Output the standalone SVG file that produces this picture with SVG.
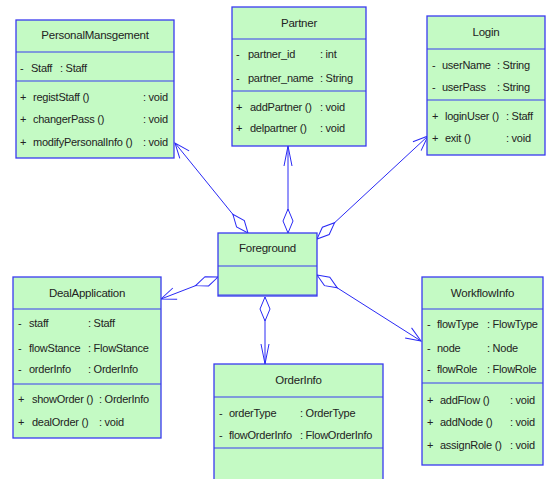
<svg xmlns="http://www.w3.org/2000/svg" width="547" height="479" viewBox="0 0 547 479">
<style>
.box{fill:#c4fac4;stroke:#3a3af0;stroke-width:1.3}
.div{stroke:#3a3af0;stroke-width:1.2}
text{font-family:"Liberation Sans",Arial,sans-serif;font-size:11px;fill:#222;letter-spacing:-0.25px}
.t{text-anchor:middle;font-size:11.5px}
.con{fill:none;stroke:#2a2af5;stroke-width:1}
</style>
<defs>
<marker id="dia" markerUnits="userSpaceOnUse" markerWidth="30" markerHeight="12" orient="auto" refX="0" refY="0" overflow="visible">
<path d="M0,0 L12,-5 L24,0 L12,5 Z" fill="#fff" stroke="#2a2af5" stroke-width="1"/>
</marker>
<marker id="arw" markerUnits="userSpaceOnUse" markerWidth="20" markerHeight="14" orient="auto" refX="0" refY="0" overflow="visible">
<path d="M-15,-6 L0,0 L-15,6" fill="none" stroke="#2a2af5" stroke-width="1"/>
</marker>
<marker id="arn" markerUnits="userSpaceOnUse" markerWidth="22" markerHeight="10" orient="auto" refX="0" refY="0" overflow="visible">
<path d="M-20,-4 L0,0 L-20,4" fill="none" stroke="#2a2af5" stroke-width="1"/>
</marker>
</defs>

<g id="connectors">
<path class="con" d="M248,233 L175,143" marker-start="url(#dia)" marker-end="url(#arw)"/>
<path class="con" d="M288,233 L288,146" marker-start="url(#dia)" marker-end="url(#arn)"/>
<path class="con" d="M317,239 L428,136" marker-start="url(#dia)" marker-end="url(#arw)"/>
<path class="con" d="M218,277 L161,299" marker-start="url(#dia)" marker-end="url(#arw)"/>
<path class="con" d="M265,297 L265,364" marker-start="url(#dia)" marker-end="url(#arn)"/>
<path class="con" d="M317,275 L421,341" marker-start="url(#dia)" marker-end="url(#arw)"/>
</g>

<g id="PersonalMansgement">
<rect class="box" x="16" y="20" width="158" height="138"/>
<line class="div" x1="16" y1="52" x2="174" y2="52"/>
<line class="div" x1="16" y1="81" x2="174" y2="81"/>
<text class="t" x="95" y="39">PersonalMansgement</text>
<text x="20" y="72">-</text><text x="31" y="72">Staff</text><text x="60" y="72">: Staff</text>
<text x="20" y="101">+</text><text x="33" y="101">registStaff ()</text><text x="143" y="101">: void</text>
<text x="20" y="123">+</text><text x="33" y="123">changerPass ()</text><text x="143" y="123">: void</text>
<text x="20" y="146">+</text><text x="33" y="146">modifyPersonalInfo ()</text><text x="143" y="146">: void</text>
</g>

<g id="Partner">
<rect class="box" x="232" y="7" width="134" height="139"/>
<line class="div" x1="232" y1="39" x2="366" y2="39"/>
<line class="div" x1="232" y1="91" x2="366" y2="91"/>
<text class="t" x="299" y="27">Partner</text>
<text x="236" y="58">-</text><text x="248" y="58">partner_id</text><text x="320" y="58">: int</text>
<text x="236" y="82">-</text><text x="248" y="82">partner_name</text><text x="320" y="82">: String</text>
<text x="236" y="111">+</text><text x="250" y="111">addPartner ()</text><text x="320" y="111">: void</text>
<text x="236" y="132">+</text><text x="250" y="132">delpartner ()</text><text x="320" y="132">: void</text>
</g>

<g id="Login">
<rect class="box" x="427" y="16" width="118" height="139"/>
<line class="div" x1="427" y1="49" x2="545" y2="49"/>
<line class="div" x1="427" y1="100" x2="545" y2="100"/>
<text class="t" x="486" y="36">Login</text>
<text x="432" y="69">-</text><text x="442" y="69">userName</text><text x="497" y="69">: String</text>
<text x="432" y="91">-</text><text x="442" y="91">userPass</text><text x="497" y="91">: String</text>
<text x="432" y="120">+</text><text x="445" y="120">loginUser ()</text><text x="506" y="120">: Staff</text>
<text x="432" y="142">+</text><text x="445" y="142">exit ()</text><text x="506" y="142">: void</text>
</g>

<g id="Foreground">
<rect class="box" x="218" y="233" width="99" height="63"/>
<line class="div" x1="218" y1="266" x2="317" y2="266"/>
<line class="div" x1="218" y1="295" x2="317" y2="295" stroke-width="2"/>
<text class="t" x="267.5" y="252">Foreground</text>
</g>

<g id="DealApplication">
<rect class="box" x="13" y="277" width="148" height="161"/>
<line class="div" x1="13" y1="309" x2="161" y2="309"/>
<line class="div" x1="13" y1="384" x2="161" y2="384"/>
<text class="t" x="87" y="297">DealApplication</text>
<text x="18" y="327">-</text><text x="29" y="327">staff</text><text x="88" y="327">: Staff</text>
<text x="18" y="352">-</text><text x="29" y="352">flowStance</text><text x="88" y="352">: FlowStance</text>
<text x="18" y="373">-</text><text x="29" y="373">orderInfo</text><text x="88" y="373">: OrderInfo</text>
<text x="18" y="403">+</text><text x="32" y="403">showOrder ()</text><text x="99" y="403">: OrderInfo</text>
<text x="18" y="426">+</text><text x="32" y="426">dealOrder ()</text><text x="99" y="426">: void</text>
</g>

<g id="OrderInfo">
<rect class="box" x="214" y="364" width="169" height="122"/>
<line class="div" x1="214" y1="397" x2="383" y2="397"/>
<line class="div" x1="214" y1="448" x2="383" y2="448"/>
<text class="t" x="298.5" y="384">OrderInfo</text>
<text x="219" y="417">-</text><text x="229" y="417">orderType</text><text x="300" y="417">: OrderType</text>
<text x="219" y="439">-</text><text x="229" y="439">flowOrderInfo</text><text x="300" y="439">: FlowOrderInfo</text>
</g>

<g id="WorkflowInfo">
<rect class="box" x="422" y="277" width="121" height="188"/>
<line class="div" x1="422" y1="309" x2="543" y2="309"/>
<line class="div" x1="422" y1="383" x2="543" y2="383"/>
<text class="t" x="482.5" y="297">WorkflowInfo</text>
<text x="427" y="328">-</text><text x="437" y="328">flowType</text><text x="487" y="328">: FlowType</text>
<text x="427" y="352">-</text><text x="437" y="352">node</text><text x="487" y="352">: Node</text>
<text x="427" y="373">-</text><text x="437" y="373">flowRole</text><text x="487" y="373">: FlowRole</text>
<text x="427" y="404">+</text><text x="440" y="404">addFlow ()</text><text x="510" y="404">: void</text>
<text x="427" y="426">+</text><text x="440" y="426">addNode ()</text><text x="510" y="426">: void</text>
<text x="427" y="449">+</text><text x="440" y="449">assignRole ()</text><text x="510" y="449">: void</text>
</g>
</svg>
